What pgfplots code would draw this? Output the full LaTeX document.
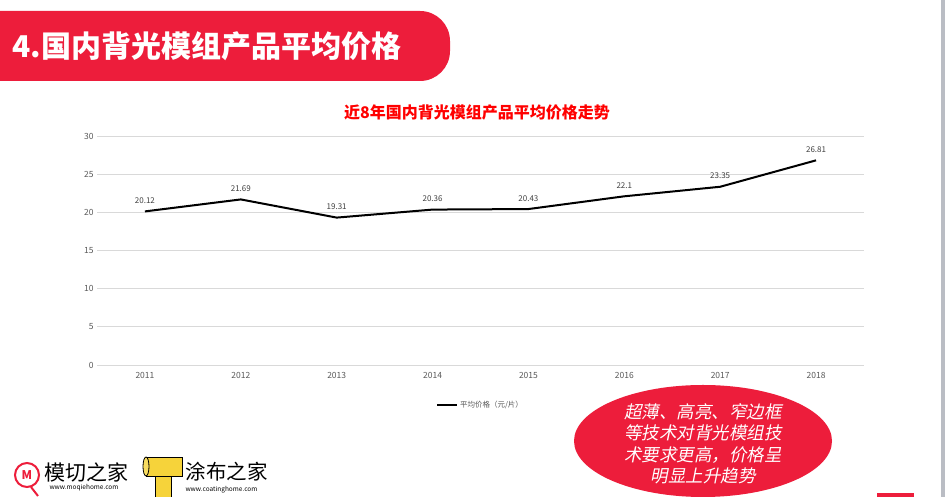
\documentclass[border=0pt]{standalone}
\usepackage{fontspec}
\setmainfont{Noto Sans CJK SC}
\newfontfamily\cjkslant{Noto Sans CJK SC}[FakeSlant=0.2]
\usepackage{pgfplots}
\pgfplotsset{compat=1.18}

\definecolor{mainred}{RGB}{237,29,59}
\definecolor{edgegray}{RGB}{186,189,196}
\definecolor{ticktext}{RGB}{89,89,89}
\definecolor{gridgray}{RGB}{217,217,217}
\definecolor{logoyellow}{RGB}{246,211,58}

\begin{document}
\begin{tikzpicture}[x=1pt,y=1pt]
\useasboundingbox (0,0) rectangle (945,497);
\fill[white] (0,0) rectangle (945,497);
\fill[edgegray] (941,0) rectangle (945,497);

% banner
\fill[mainred] (0,416) -- (420,416) arc[start angle=270,end angle=360,radius=30]
  -- (450,456) arc[start angle=0,end angle=90,radius=30] -- (0,486) -- cycle;
\node[anchor=west, text=white, font=\fontsize{30}{32}\selectfont\bfseries]
  at (9,451) {4.国内背光模组产品平均价格};

% chart title
\node[text=red, font=\fontsize{16}{18}\selectfont\bfseries] at (477,384)
  {近8年国内背光模组产品平均价格走势};

\begin{axis}[
    at={(97pt,132pt)}, anchor=south west,
    scale only axis, width=767pt, height=229pt,
    xmin=-0.5, xmax=7.5, ymin=0, ymax=30,
    xtick={0,...,7},
    xticklabels={2011,2012,2013,2014,2015,2016,2017,2018},
    ytick={0,5,...,30},
    ymajorgrids, grid style={gridgray, line width=0.8pt},
    axis line style={draw=none},
    major tick length=0pt,
    /pgf/number format/assume math mode=true,
    tick label style={font=\fontsize{8.5}{9}\selectfont, text=ticktext},
    xticklabel style={yshift=-4pt},
    legend style={at={(0.5,-0.175)}, anchor=center, draw=none,
        font=\fontsize{7.5}{9}\selectfont, text=ticktext,
        legend columns=-1},
    legend image code/.code={\draw[black, line width=2pt] (0pt,0pt) -- (20pt,0pt);},
    clip=false,
]
\addplot[black, line width=2pt, nodes near coords, point meta=explicit symbolic,
    every node near coord/.style={font=\fontsize{8}{9}\selectfont,
        text=black!75, anchor=south, yshift=3.5pt}]
  coordinates {
    (0,20.12) [20.12]
    (1,21.69) [21.69]
    (2,19.31) [19.31]
    (3,20.36) [20.36]
    (4,20.43) [20.43]
    (5,22.1)  [22.1]
    (6,23.35) [23.35]
    (7,26.81) [26.81]
  };
\legend{平均价格（元/片）}
\end{axis}

% callout ellipse
\fill[mainred] (703,56) ellipse [x radius=129, y radius=56];
\node[text=white, align=center, font=\fontsize{17.5}{21.5}\selectfont\cjkslant]
  at (703,53) {超薄、高亮、窄边框\\等技术对背光模组技\\术要求更高，价格呈\\明显上升趋势};

% bottom red mark
\fill[mainred] (877,0) rectangle (914,4);

% logo 1
\draw[mainred, line width=2pt] (27,22) circle [radius=12];
\draw[mainred, line width=2pt] (31,10) -- (38,1);
\node[text=mainred, font=\fontsize{12}{12}\selectfont\bfseries] at (27,22) {M};
\node[anchor=west, font=\fontsize{21}{21}\selectfont] at (41,25) {模切之家};
\node[anchor=west, font=\fontsize{6.5}{6.5}\selectfont] at (46,9) {www.moqiehome.com};

% logo 2
\filldraw[fill=logoyellow, draw=black, line width=0.8pt] (155,0) rectangle (171,21);
\filldraw[fill=logoyellow, draw=black, line width=0.8pt] (146,21) rectangle (182,40);
\filldraw[fill=logoyellow!80!white, draw=black, line width=0.8pt] (146,30.5) ellipse [x radius=3, y radius=9.5];
\node[anchor=west, font=\fontsize{20.5}{20.5}\selectfont] at (182,25) {涂布之家};
\node[anchor=west, font=\fontsize{6.5}{6.5}\selectfont] at (182,7) {www.coatinghome.com};
\end{tikzpicture}
\end{document}
